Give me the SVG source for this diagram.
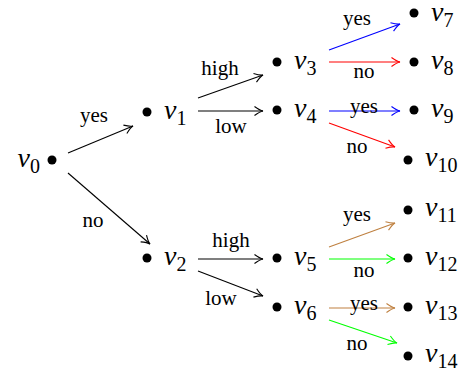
<svg xmlns="http://www.w3.org/2000/svg" width="463" height="375" viewBox="0 0 463 375">
<style>
.dot{fill:#000}
.lbl{font-family:'Liberation Serif','Times New Roman',serif;font-size:28px;font-style:italic;fill:#000}
.sub{font-style:normal;font-size:20px}
.el{font-family:'Liberation Serif','Times New Roman',serif;font-size:21px;fill:#000;text-anchor:middle}
.e{fill:none;stroke-width:1.1}
.k{stroke:#000;marker-end:url(#ak)}
.b{stroke:#0000ff;marker-end:url(#ab)}
.r{stroke:#ff0000;marker-end:url(#ar)}
.g{stroke:#00ff00;marker-end:url(#ag)}
.w{stroke:#bf8040;marker-end:url(#aw)}
</style>
<defs>
<marker id="ak" markerUnits="userSpaceOnUse" viewBox="-10 -6 12 12" markerWidth="12" markerHeight="12" refX="0" refY="0" orient="auto"><path d="M-8.5,-4.5 Q-3,-0.5 0,0 Q-3,0.5 -8.5,4.5" fill="none" stroke="#000" stroke-width="1.1"/></marker>
<marker id="ab" markerUnits="userSpaceOnUse" viewBox="-10 -6 12 12" markerWidth="12" markerHeight="12" refX="0" refY="0" orient="auto"><path d="M-8.5,-4.5 Q-3,-0.5 0,0 Q-3,0.5 -8.5,4.5" fill="none" stroke="#0000ff" stroke-width="1.1"/></marker>
<marker id="ar" markerUnits="userSpaceOnUse" viewBox="-10 -6 12 12" markerWidth="12" markerHeight="12" refX="0" refY="0" orient="auto"><path d="M-8.5,-4.5 Q-3,-0.5 0,0 Q-3,0.5 -8.5,4.5" fill="none" stroke="#ff0000" stroke-width="1.1"/></marker>
<marker id="ag" markerUnits="userSpaceOnUse" viewBox="-10 -6 12 12" markerWidth="12" markerHeight="12" refX="0" refY="0" orient="auto"><path d="M-8.5,-4.5 Q-3,-0.5 0,0 Q-3,0.5 -8.5,4.5" fill="none" stroke="#00ff00" stroke-width="1.1"/></marker>
<marker id="aw" markerUnits="userSpaceOnUse" viewBox="-10 -6 12 12" markerWidth="12" markerHeight="12" refX="0" refY="0" orient="auto"><path d="M-8.5,-4.5 Q-3,-0.5 0,0 Q-3,0.5 -8.5,4.5" fill="none" stroke="#bf8040" stroke-width="1.1"/></marker>
</defs>
<rect width="463" height="375" fill="#fff"/>

<g id="connectors">
<line class="e k" x1="68" y1="153" x2="133" y2="126"/>
<line class="e k" x1="68" y1="173" x2="150" y2="244"/>
<line class="e k" x1="198" y1="98" x2="263" y2="75"/>
<line class="e k" x1="198" y1="111" x2="263" y2="111"/>
<line class="e k" x1="198" y1="259" x2="263" y2="259"/>
<line class="e k" x1="198" y1="271" x2="263" y2="296"/>
<line class="e b" x1="329" y1="50" x2="400" y2="24"/>
<line class="e r" x1="329" y1="62" x2="400" y2="62"/>
<line class="e b" x1="329" y1="111" x2="400" y2="111"/>
<line class="e r" x1="329" y1="123" x2="395" y2="147"/>
<line class="e w" x1="329" y1="247" x2="395" y2="223"/>
<line class="e g" x1="329" y1="259" x2="395" y2="259"/>
<line class="e w" x1="329" y1="308" x2="395" y2="308"/>
<line class="e g" x1="329" y1="320" x2="397" y2="343"/>
<text class="el" x="94" y="122">yes</text>
<text class="el" x="93" y="227">no</text>
<text class="el" x="220" y="75">high</text>
<text class="el" x="231" y="133">low</text>
<text class="el" x="231" y="247">high</text>
<text class="el" x="221" y="305">low</text>
<text class="el" x="357" y="25">yes</text>
<text class="el" x="364" y="78">no</text>
<text class="el" x="364" y="113">yes</text>
<text class="el" x="357" y="153">no</text>
<text class="el" x="357" y="221">yes</text>
<text class="el" x="364" y="277">no</text>
<text class="el" x="364" y="310">yes</text>
<text class="el" x="357" y="350">no</text>
</g>

<g id="v0"><circle class="dot" cx="52" cy="160" r="4.5"/><text class="lbl" x="40" y="167" text-anchor="end">v<tspan class="sub" dy="6">0</tspan></text></g>
<g id="v1"><circle class="dot" cx="147" cy="112" r="4.5"/><text class="lbl" x="164" y="119">v<tspan class="sub" dy="6">1</tspan></text></g>
<g id="v2"><circle class="dot" cx="147" cy="258" r="4.5"/><text class="lbl" x="164" y="265">v<tspan class="sub" dy="6">2</tspan></text></g>
<g id="v3"><circle class="dot" cx="277" cy="62" r="4.5"/><text class="lbl" x="294" y="69">v<tspan class="sub" dy="6">3</tspan></text></g>
<g id="v4"><circle class="dot" cx="277" cy="110" r="4.5"/><text class="lbl" x="294" y="117">v<tspan class="sub" dy="6">4</tspan></text></g>
<g id="v5"><circle class="dot" cx="277" cy="258" r="4.5"/><text class="lbl" x="294" y="265">v<tspan class="sub" dy="6">5</tspan></text></g>
<g id="v6"><circle class="dot" cx="277" cy="307" r="4.5"/><text class="lbl" x="294" y="314">v<tspan class="sub" dy="6">6</tspan></text></g>
<g id="v7"><circle class="dot" cx="414" cy="13" r="4.5"/><text class="lbl" x="431" y="21">v<tspan class="sub" dy="6">7</tspan></text></g>
<g id="v8"><circle class="dot" cx="414" cy="62" r="4.5"/><text class="lbl" x="431" y="69">v<tspan class="sub" dy="6">8</tspan></text></g>
<g id="v9"><circle class="dot" cx="414" cy="110" r="4.5"/><text class="lbl" x="431" y="117">v<tspan class="sub" dy="6">9</tspan></text></g>
<g id="v10"><circle class="dot" cx="408" cy="160" r="4.5"/><text class="lbl" x="425" y="166">v<tspan class="sub" dy="6">10</tspan></text></g>
<g id="v11"><circle class="dot" cx="408" cy="210" r="4.5"/><text class="lbl" x="425" y="216">v<tspan class="sub" dy="6">11</tspan></text></g>
<g id="v12"><circle class="dot" cx="408" cy="258" r="4.5"/><text class="lbl" x="425" y="265">v<tspan class="sub" dy="6">12</tspan></text></g>
<g id="v13"><circle class="dot" cx="408" cy="307" r="4.5"/><text class="lbl" x="425" y="314">v<tspan class="sub" dy="6">13</tspan></text></g>
<g id="v14"><circle class="dot" cx="408" cy="356" r="4.5"/><text class="lbl" x="425" y="362">v<tspan class="sub" dy="6">14</tspan></text></g>
</svg>
